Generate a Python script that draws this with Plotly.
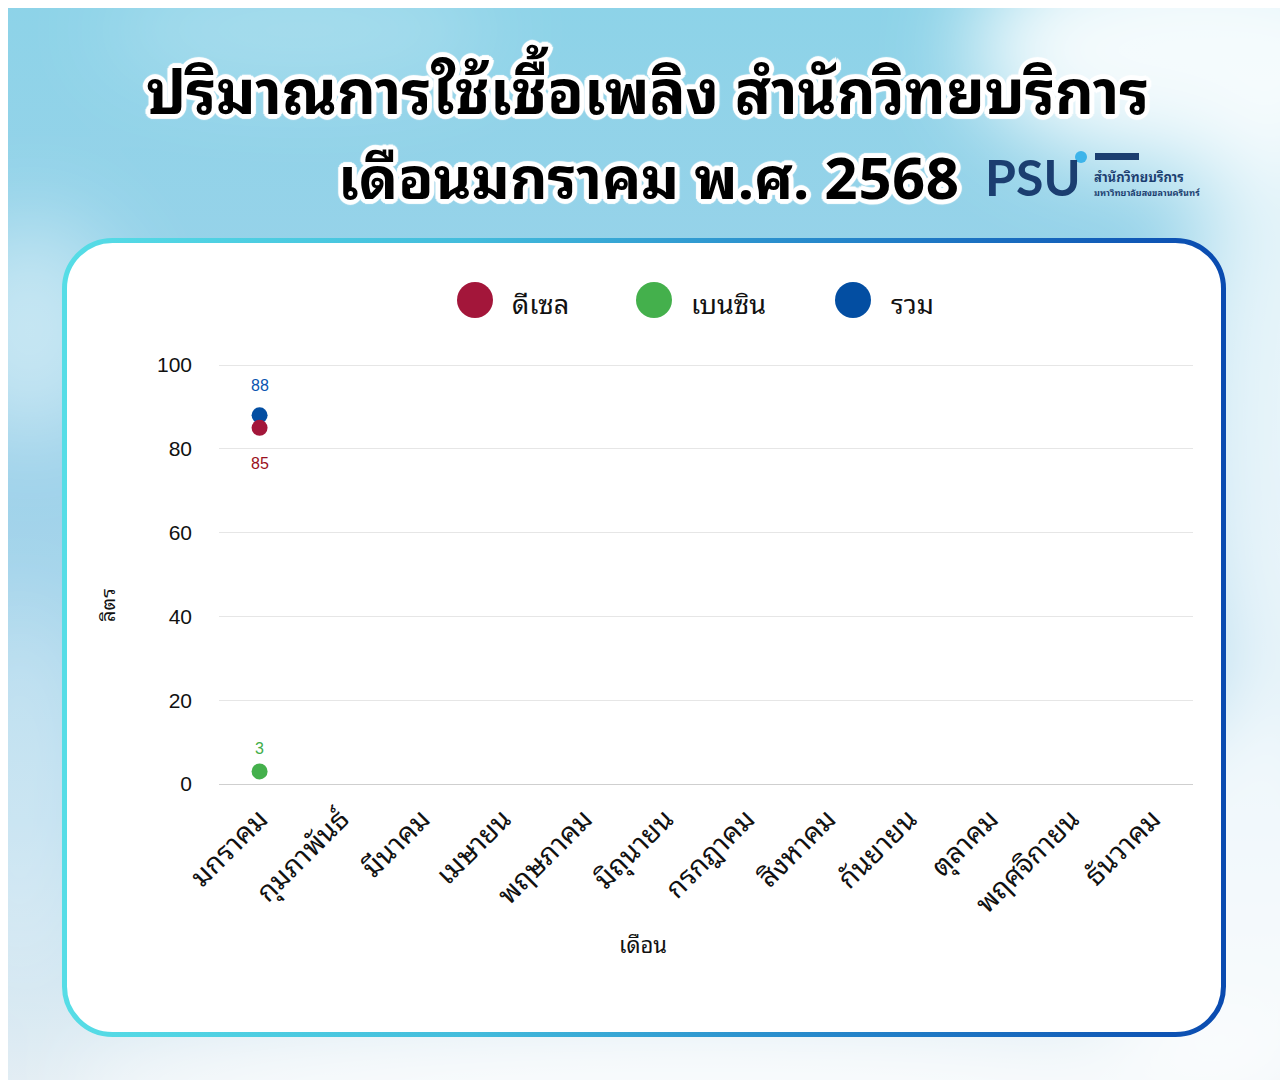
import base64
import plotly.graph_objects as go

# ---------------- data ----------------
months = ["มกราคม", "กุมภาพันธ์", "มีนาคม", "เมษายน", "พฤษภาคม", "มิถุนายน",
          "กรกฎาคม", "สิงหาคม", "กันยายน", "ตุลาคม", "พฤศจิกายน", "ธันวาคม"]
diesel = [85, None, None, None, None, None, None, None, None, None, None, None]
benzin = [3, None, None, None, None, None, None, None, None, None, None, None]
total = [88, None, None, None, None, None, None, None, None, None, None, None]
series_names = ["ดีเซล", "เบนซิน", "รวม"]
y_ticks = [0, 20, 40, 60, 80, 100]

title_line1 = "ปริมาณการใช้เชื้อเพลิง สำนักวิทยบริการ"
title_line2 = "เดือนมกราคม พ.ศ. 2568"

# ---------------- styling ----------------
W, H = 1288, 1080
OFF = 8  # page body margin: figure starts at (8, 8) on the page
C_DIESEL = "#a3163a"
C_BENZIN = "#44b04c"
C_TOTAL = "#034ea2"
LBL_DIESEL = "#9b1020"
LBL_BENZIN = "#3fae49"
LBL_TOTAL = "#0a55b0"
THAI = ("Noto Sans Thai Looped, Loma, Garuda, Waree, Tlwg Typo, Kinnari, "
        "Sarabun, Noto Sans Thai, Noto Sans Thai UI, Noto Sans, sans-serif")
NUM = "Liberation Sans, Arial, sans-serif"


def px(x):
    return (x - OFF) / W


def py(y):
    return 1 - (y - OFF) / H


# plot area in page pixels
PL, PR, PT, PB = 219, 1193, 365, 784
YMAX = 100.3
PT_DOM = PB - (PB - PT) * YMAX / 100

svg = f'''<svg xmlns="http://www.w3.org/2000/svg" width="{W}" height="{H}" viewBox="0 0 {W} {H}">
<defs>
<linearGradient id="bg" x1="0" y1="0" x2="0" y2="1">
<stop offset="0" stop-color="#8dd3e8"/>
<stop offset="0.45" stop-color="#9fd2ea"/>
<stop offset="0.75" stop-color="#b9dcee"/>
<stop offset="1" stop-color="#e3edf3"/>
</linearGradient>
<linearGradient id="bd" x1="0" y1="0" x2="1" y2="0">
<stop offset="0" stop-color="#56dde6"/>
<stop offset="0.35" stop-color="#43bcdc"/>
<stop offset="0.7" stop-color="#2280c8"/>
<stop offset="1" stop-color="#0a4bb0"/>
</linearGradient>
<filter id="blur" x="-60%" y="-60%" width="220%" height="220%"><feGaussianBlur stdDeviation="45"/></filter>
</defs>
<g transform="translate(-{OFF},-{OFF})">
<rect width="{W + 2 * OFF}" height="{H + 2 * OFF}" fill="url(#bg)"/>
<g filter="url(#blur)" fill="#ffffff">
<ellipse cx="1200" cy="50" rx="230" ry="120" opacity="0.9"/>
<ellipse cx="1290" cy="420" rx="110" ry="320" opacity="0.75"/>
<ellipse cx="1250" cy="900" rx="160" ry="200" opacity="0.8"/>
<ellipse cx="700" cy="1090" rx="650" ry="70" opacity="0.85"/>
<ellipse cx="30" cy="330" rx="90" ry="110" opacity="0.45"/>
<ellipse cx="20" cy="800" rx="60" ry="200" opacity="0.3"/>
<ellipse cx="300" cy="30" rx="200" ry="50" opacity="0.25"/>
</g>
<rect x="64.5" y="240.5" width="1159" height="794" rx="48" ry="48" fill="#ffffff" stroke="url(#bd)" stroke-width="5"/>
</g>
</svg>'''
svg_uri = "data:image/svg+xml;base64," + base64.b64encode(svg.encode("utf-8")).decode("ascii")

fig = go.Figure()

# traces (diesel drawn last so it sits on top, as in the reference)
for name, vals, col in [(series_names[2], total, C_TOTAL),
                        (series_names[1], benzin, C_BENZIN),
                        (series_names[0], diesel, C_DIESEL)]:
    fig.add_trace(go.Scatter(
        x=months, y=vals, name=name, mode="markers",
        marker=dict(size=16, color=col, line=dict(width=0)),
        showlegend=False, cliponaxis=False,
        hovertemplate="%{x}: %{y}<extra>" + name + "</extra>",
    ))

annotations = []
# data labels anchored on data coordinates
for vals, col, shift in [(total, LBL_TOTAL, 30), (diesel, LBL_DIESEL, -36), (benzin, LBL_BENZIN, 23)]:
    for m, v in zip(months, vals):
        if v is None:
            continue
        annotations.append(dict(
            x=m, y=v, xref="x", yref="y", text=str(v), showarrow=False,
            yshift=shift, font=dict(family=NUM, size=16, color=col),
        ))

OUTLINE = ", ".join(f"{dx}px {dy}px 1px #ffffff" for dx, dy in
                    [(4, 0), (-4, 0), (0, 4), (0, -4), (3, 3), (-3, -3), (3, -3), (-3, 3),
                     (2, 4), (-2, 4), (2, -4), (-2, -4), (4, 2), (-4, 2), (4, -2), (-4, -2),
                     (5, 0), (-5, 0), (0, 5), (0, -5)])

# title lines
annotations.append(dict(x=px(647), y=py(87), xref="paper", yref="paper", text=title_line1,
                        showarrow=False, xanchor="center", yanchor="middle",
                        font=dict(family=THAI, size=60, color="#000000", weight="bold", shadow=OUTLINE)))
annotations.append(dict(x=px(648), y=py(172), xref="paper", yref="paper", text=title_line2,
                        showarrow=False, xanchor="center", yanchor="middle",
                        font=dict(family=THAI, size=58, color="#000000", weight="bold", shadow=OUTLINE)))

# logo text
annotations.append(dict(x=px(1033), y=py(177), xref="paper", yref="paper", text="<b>PSU</b>",
                        showarrow=False, xanchor="center", yanchor="middle",
                        font=dict(family="Lato, Liberation Sans, sans-serif", size=50, color="#1b3e70")))
annotations.append(dict(x=px(1092), y=py(164), xref="paper", yref="paper",
                        text="<span style='font-size:13px'><b>สำนักวิทยบริการ</b></span><br>"
                             "<span style='font-size:9px'><b>มหาวิทยาลัยสงขลานครินทร์</b></span>",
                        showarrow=False, xanchor="left", yanchor="top", align="left",
                        font=dict(family=THAI, size=11, color="#1b3e70")))

# custom legend (large round swatches)
legend_pos = [(475, 510), (654, 689), (853, 889)]
legend_cols = [C_DIESEL, C_BENZIN, C_TOTAL]
shapes = []
for (cx, tx), col, name in zip(legend_pos, legend_cols, series_names):
    shapes.append(dict(type="circle", xref="paper", yref="paper",
                       x0=px(cx - 18), x1=px(cx + 18), y0=py(300 + 18), y1=py(300 - 18),
                       fillcolor=col, line=dict(width=0), layer="above"))
    annotations.append(dict(x=px(tx), y=py(302), xref="paper", yref="paper", text=name,
                            showarrow=False, xanchor="left", yanchor="middle",
                            font=dict(family=THAI, size=27, color="#111111")))

# logo decorations
shapes.append(dict(type="circle", xref="paper", yref="paper",
                   x0=px(1075), x1=px(1087), y0=py(163), y1=py(151),
                   fillcolor="#3db4ea", line=dict(width=0)))
shapes.append(dict(type="rect", xref="paper", yref="paper",
                   x0=px(1095), x1=px(1139), y0=py(160), y1=py(153),
                   fillcolor="#1b3e70", line=dict(width=0)))

# axis titles
annotations.append(dict(x=px(643), y=py(943), xref="paper", yref="paper", text="เดือน",
                        showarrow=False, xanchor="center", yanchor="middle",
                        font=dict(family=THAI, size=22, color="#111111")))
annotations.append(dict(x=px(106), y=py(605), xref="paper", yref="paper", text="ลิตร",
                        showarrow=False, xanchor="center", yanchor="middle", textangle=-90,
                        font=dict(family=THAI, size=20, color="#111111")))

fig.update_layout(
    width=W, height=H,
    margin=dict(l=0, r=0, t=0, b=0, pad=0, autoexpand=False),
    paper_bgcolor="#a8d8ec",
    plot_bgcolor="rgba(0,0,0,0)",
    showlegend=False,
    images=[dict(source=svg_uri, xref="paper", yref="paper", x=0, y=1, sizex=1, sizey=1,
                 xanchor="left", yanchor="top", sizing="stretch", layer="below")],
    shapes=shapes,
    annotations=annotations,
    xaxis=dict(
        domain=[px(PL), px(PR)],
        type="category", categoryorder="array", categoryarray=months,
        range=[-0.5, 11.5], automargin=False,
        showgrid=False, zeroline=False, showline=False,
        tickangle=-45, ticks="", ticklabelstandoff=12,
        tickfont=dict(family=THAI, size=28, color="#111111"),
        fixedrange=True,
    ),
    yaxis=dict(
        domain=[py(PB), py(PT_DOM)],
        range=[0, YMAX], tickvals=y_ticks, automargin=False,
        showgrid=True, gridcolor="#e6e6e6", gridwidth=1,
        zeroline=True, zerolinecolor="#cfcfcf", zerolinewidth=1,
        showline=False, ticks="", ticklabelstandoff=26,
        tickfont=dict(family=NUM, size=21, color="#111111"),
        fixedrange=True,
    ),
)

fig.write_html("out.html")
